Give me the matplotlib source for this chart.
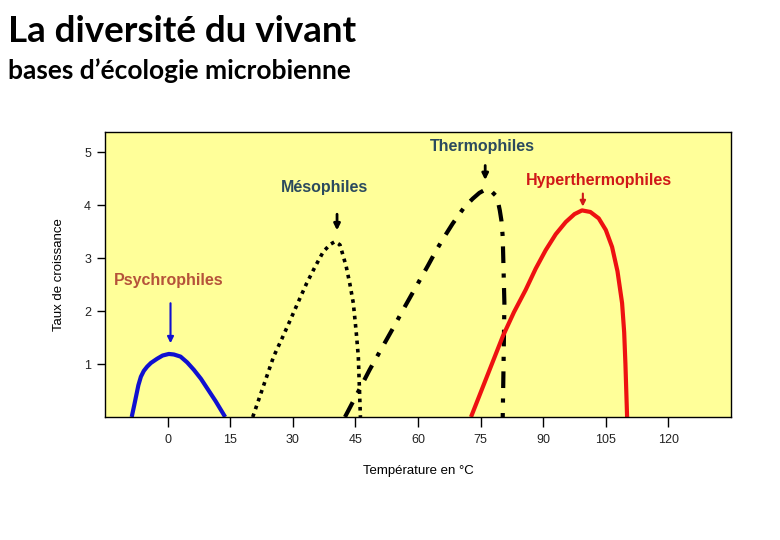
import matplotlib
matplotlib.use("Agg")
import matplotlib.pyplot as plt

# ================ DATA ================
psy_t = [-8.6, -8.0, -7.0, -6.4, -5.7, -4.9, -4.0, -2.5, -1.2, 0.3, 1.5, 3.1, 4.7, 6.3, 8.0, 9.5, 11.5, 13.8]
psy_v = [0.0, 0.22, 0.60, 0.76, 0.87, 0.95, 1.02, 1.10, 1.16, 1.19, 1.18, 1.14, 1.03, 0.89, 0.72, 0.54, 0.30, 0.0]

meso_t = [20.4, 22.9, 25.4, 27.4, 29.4, 31.3, 33.3, 35.3, 37.3, 39.0, 40.1, 41.3, 42.0, 42.8, 43.7, 44.5, 45.2, 45.7, 46.2]
meso_v = [0.0, 0.57, 1.14, 1.48, 1.83, 2.17, 2.52, 2.83, 3.12, 3.26, 3.31, 3.25, 3.06, 2.84, 2.50, 2.15, 1.60, 1.14, 0.0]

thermo_t = [42.5, 45.5, 48.4, 50.4, 52.4, 54.4, 56.4, 58.4, 60.4, 62.4, 64.4, 66.3, 68.3, 71.0, 73.1, 74.7,
            76.3, 77.6, 78.6, 79.2, 79.6, 80.0, 80.3, 80.7, 80.5, 80.3]
thermo_v = [0.0, 0.45, 0.89, 1.17, 1.45, 1.73, 2.02, 2.30, 2.58, 2.86, 3.15, 3.40, 3.65, 3.95, 4.12, 4.23,
            4.30, 4.26, 4.18, 4.05, 3.90, 3.70, 3.40, 2.15, 1.00, 0.0]

hyper_t = [72.7, 76.5, 80.3, 83.0, 85.8, 88.2, 90.6, 93.0, 95.4, 97.5, 99.3, 101.3, 103.3, 105.0, 106.5,
           107.8, 108.9, 109.4, 109.7, 110.1]
hyper_v = [0.0, 0.76, 1.52, 1.98, 2.40, 2.80, 3.15, 3.45, 3.68, 3.83, 3.90, 3.87, 3.75, 3.53, 3.21,
           2.75, 2.15, 1.60, 1.00, 0.0]

x_ticks = [0, 15, 30, 45, 60, 75, 90, 105, 120]
y_ticks = [1, 2, 3, 4, 5]

# ================ FIGURE ================
fig = plt.figure(figsize=(7.8, 5.4), dpi=100)
fig.text(0.010, 0.972, "La diversité du vivant", family="Lato", weight="bold",
         fontsize=26.5, va="top", ha="left")
fig.text(0.010, 0.893, "bases d\u2019écologie microbienne", family="Lato", weight="bold",
         fontsize=19, va="top", ha="left")

ax = fig.add_axes([0.1346, 0.2278, 0.8026, 0.5278])
ax.set_facecolor("#ffff99")
ax.set_xlim(-15, 135)
ax.set_ylim(0, 5.38)

ax.plot(psy_t, psy_v, color="#1010d0", lw=3, solid_capstyle="butt")
ax.plot(meso_t, meso_v, color="black", lw=2.6, linestyle=(0, (1, 1.3)))
ax.plot(thermo_t, thermo_v, color="black", lw=3, linestyle=(0, (4, 2.5, 1, 2.5)))
ax.plot(hyper_t, hyper_v, color="#ee1111", lw=3, solid_capstyle="butt")

ax.set_xticks(x_ticks)
ax.set_yticks(y_ticks)
tf = dict(family="Liberation Sans", fontsize=9, color="#222222")
ax.set_xticklabels([str(v) for v in x_ticks], **tf)
ax.set_yticklabels([str(v) for v in y_ticks], **tf)
ax.tick_params(axis="x", length=7, width=1, pad=5)
ax.tick_params(axis="y", length=6, width=1, pad=4)
for s in ax.spines.values():
    s.set_linewidth(1)

ax.set_xlabel("Température en °C", family="Liberation Sans", fontsize=9.5, labelpad=14)
ax.set_ylabel("Taux de croissance", family="Liberation Sans", fontsize=9.5, labelpad=14)

# ---- labels and arrows
lab = dict(family="Liberation Sans", weight="bold", fontsize=11.5, ha="center", va="center")
ax.text(0.2, 2.58, "Psychrophiles", color="#b5533a", **lab)
ax.annotate("", xy=(0.7, 1.34), xytext=(0.7, 2.2),
            arrowprops=dict(arrowstyle="-|>", color="#1010d0", lw=1.5, mutation_scale=9))
ax.text(37.7, 4.34, "Mésophiles", color="#2b4a5e", **lab)
ax.annotate("", xy=(40.6, 3.47), xytext=(40.6, 3.88),
            arrowprops=dict(arrowstyle="-|>", color="black", lw=2, mutation_scale=9))
ax.text(75.4, 5.11, "Thermophiles", color="#2b4a5e", **lab)
ax.annotate("", xy=(76.1, 4.42), xytext=(76.1, 4.80),
            arrowprops=dict(arrowstyle="-|>", color="black", lw=2, mutation_scale=9))
ax.text(103.3, 4.47, "Hyperthermophiles", color="#d01818", **lab)
ax.annotate("", xy=(99.5, 3.92), xytext=(99.5, 4.27),
            arrowprops=dict(arrowstyle="-|>", color="#d01818", lw=1.5, mutation_scale=8))

fig.savefig("out.png", dpi=100)
